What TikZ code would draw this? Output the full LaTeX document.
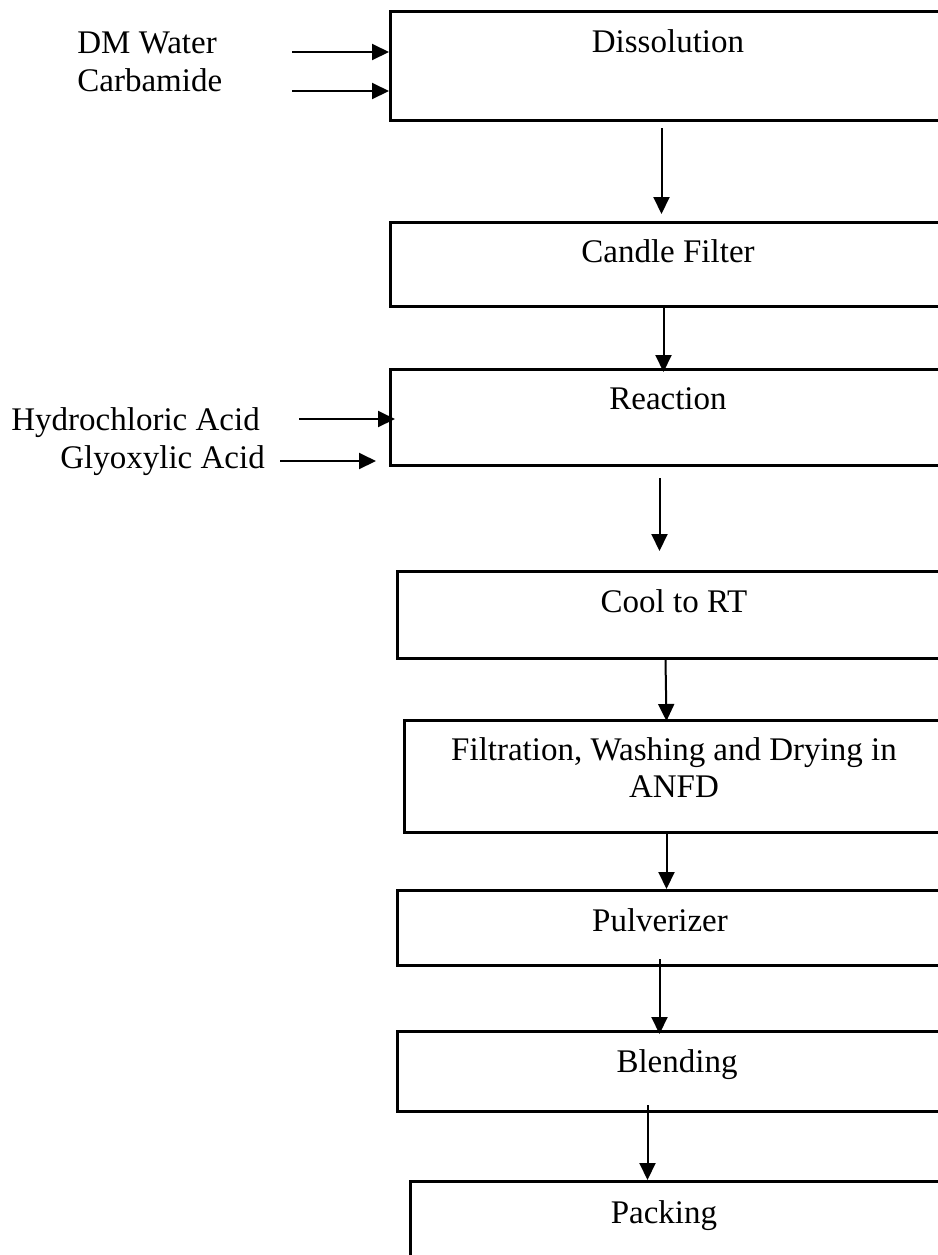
\documentclass[tikz,border=0pt]{standalone}
\usepackage{fontspec}
\setmainfont{Liberation Serif}
\usetikzlibrary{arrows.meta,calc}
\begin{document}
\begin{tikzpicture}[x=0.5pt,y=-0.5pt,
  box/.style={draw, line width=1.5pt, anchor=north west, inner sep=0pt, minimum width=279pt},
  lbl/.style={font=\fontsize{16.5}{18.5}\selectfont, inner sep=0pt, anchor=base},
  inlbl/.style={font=\fontsize{16.5}{18.5}\selectfont, inner sep=0pt, anchor=base west},
  arr/.style={line width=1pt, -{Triangle[length=8.5pt,width=8pt]}}]
\clip (0,0) rectangle (938,1255);
\fill[white] (0,0) rectangle (938,1255);

% boxes
\node[box, minimum height=54.5pt] (b1) at (389,10) {};
\node[box, minimum height=42pt]   (b2) at (389,221) {};
\node[box, minimum height=48pt]   (b3) at (389,368) {};
\node[box, minimum height=43.5pt] (b4) at (396,570) {};
\node[box, minimum height=56pt]   (b5) at (403,719) {};
\node[box, minimum height=37.5pt] (b6) at (396,889) {};
\node[box, minimum height=40pt]   (b7) at (396,1030) {};
\node[box, minimum height=50pt]   (b8) at (409,1180) {};

% box texts
\node[lbl] (t1) at (668,52) {Dissolution};
\node[lbl] (t2) at (668,262) {Candle Filter};
\node[lbl] (t3) at (668,409) {Reaction};
\node[lbl] (t4) at (674,612) {Cool to RT};
\node[lbl, align=center] (t5) at (674,797) {Filtration, Washing and Drying in\\ANFD};
\node[lbl] (t6) at (660,931) {Pulverizer};
\node[lbl] (t7) at (677,1072) {Blending};
\node[lbl] (t8) at (664,1223) {Packing};

% input texts
\node[inlbl] (dm) at (77,53) {DM Water};
\node[inlbl] (cb) at (77,91) {Carbamide};
\node[inlbl] (hc) at (11,430) {Hydrochloric Acid};
\node[inlbl] (gl) at (60,468) {Glyoxylic Acid};

% input arrow starts
\coordinate (dmA) at (292,52);
\coordinate (cbA) at (292,91);
\coordinate (hcA) at (299,419);
\coordinate (glA) at (280,461);
\coordinate (glB) at (376,461);

\draw[arr] (dmA) -- (dmA -| b1.west);
\draw[arr] (cbA) -- (cbA -| b1.west);
\draw[arr] (hcA) -- ([xshift=3pt]hcA -| b3.west);
\draw[arr] (glA) -- (glB);

% flow arrows
\draw[arr] ([xshift=-4pt,yshift=-3pt]b1.south) -- ([xshift=-4pt,yshift=3.5pt]b2.north);
\draw[arr] ([xshift=-3pt,yshift=1.5pt]b2.south) -- ([xshift=-3pt,yshift=-2pt]b3.north);
\draw[arr] ([xshift=-5pt,yshift=-5.5pt]b3.south) -- ([xshift=-8.5pt,yshift=9.5pt]b4.north);
\draw[arr] ([xshift=-5.5pt]b4.south) -- ([xshift=-8.5pt,yshift=-1pt]b5.north);
\draw[arr] ([xshift=-8.5pt]b5.south) -- ([xshift=-5pt]b6.north);
\draw[arr] ([xshift=-8.5pt,yshift=4pt]b6.south) -- ([xshift=-8.5pt,yshift=-2pt]b7.north);
\draw[arr] ([xshift=-14.5pt,yshift=4pt]b7.south) -- ([xshift=-21pt]b8.north);
\end{tikzpicture}
\end{document}
